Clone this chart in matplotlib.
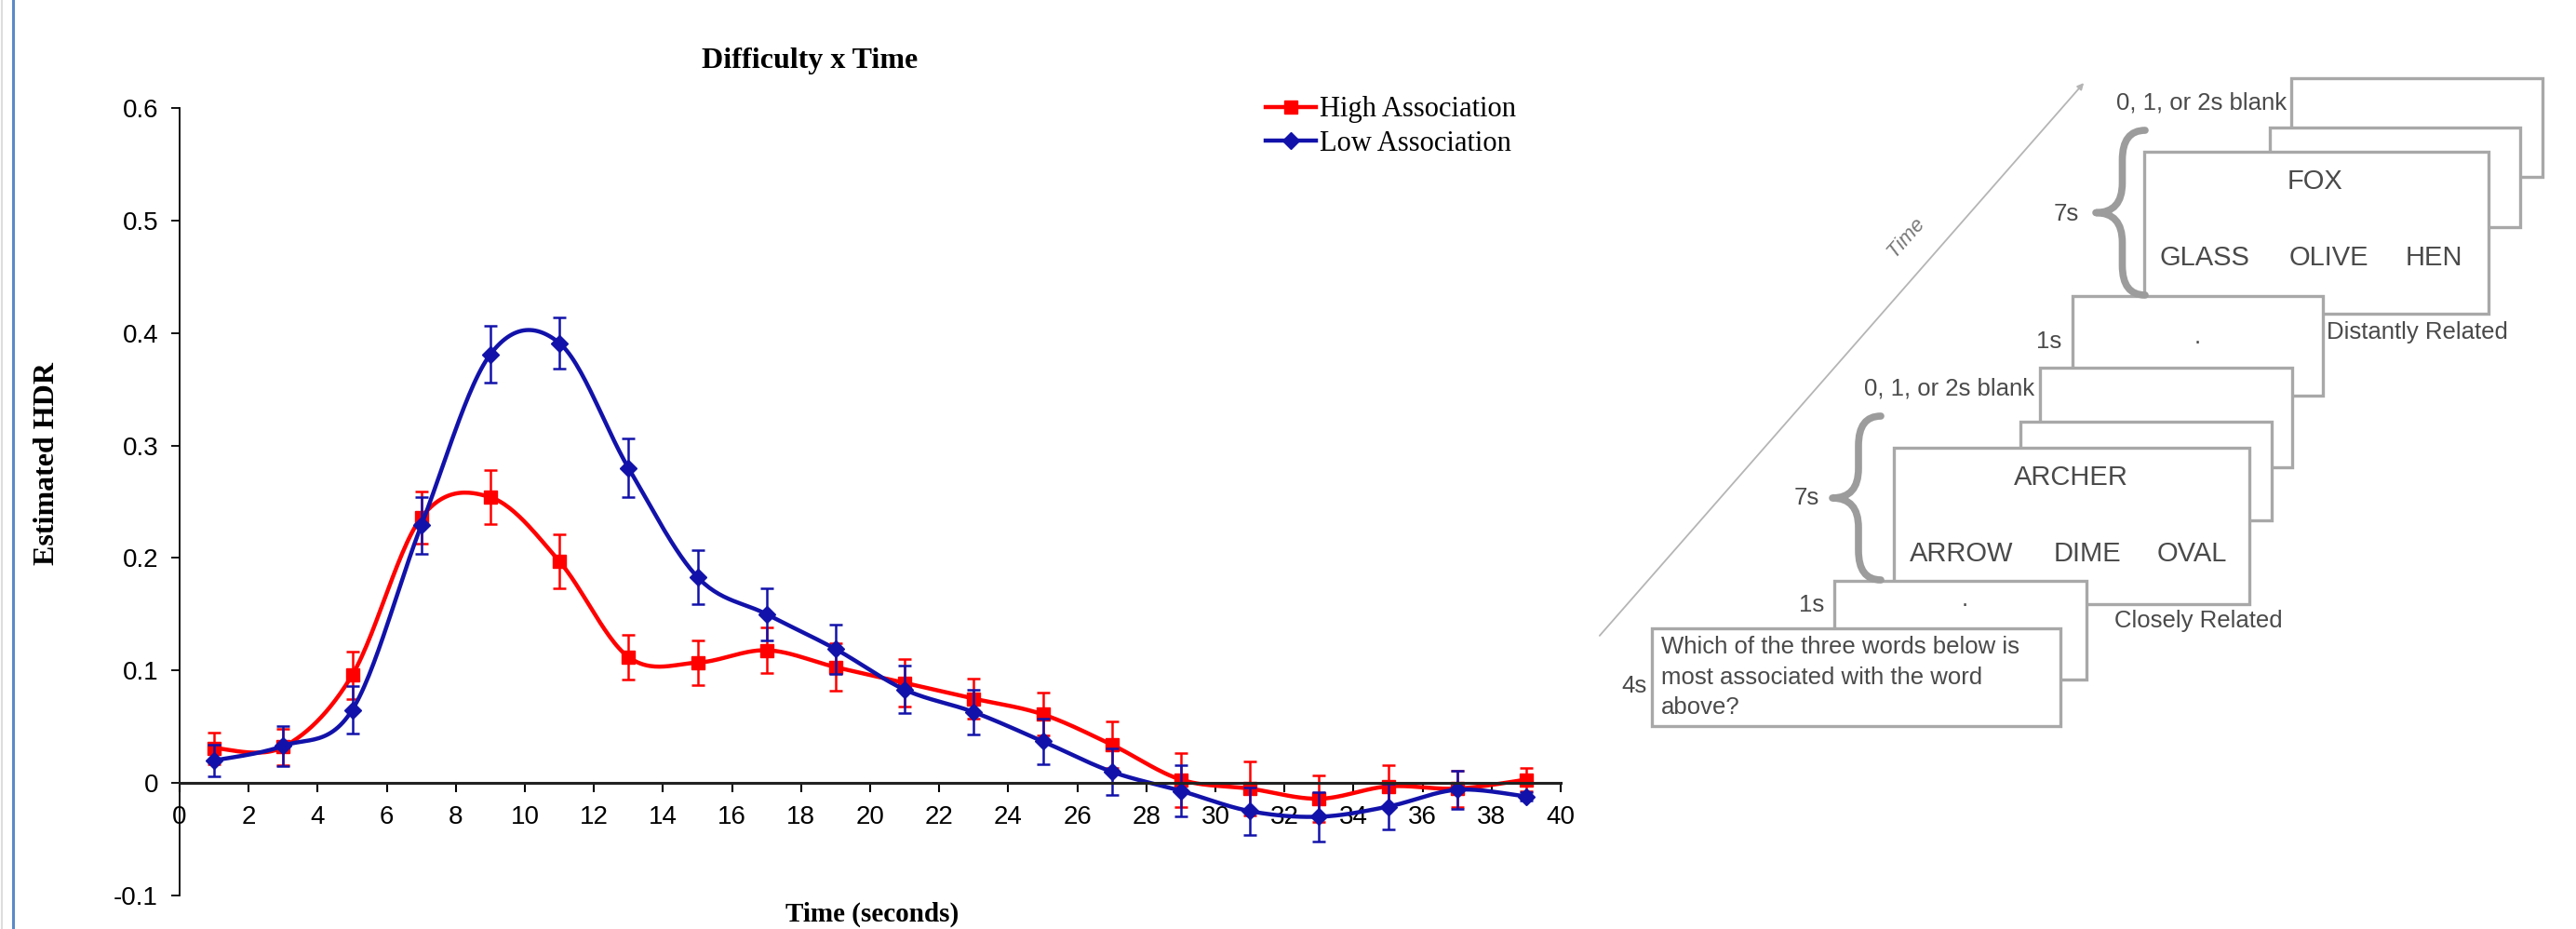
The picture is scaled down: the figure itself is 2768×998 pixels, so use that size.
import numpy as np
import matplotlib
matplotlib.use('Agg')
import matplotlib.pyplot as plt
from matplotlib.patches import Rectangle, PathPatch
from matplotlib.path import Path
from matplotlib.lines import Line2D

# --- data ---
time_s = [1, 3, 5, 7, 9, 11, 13, 15, 17, 19, 21, 23, 25, 27, 29, 31, 33, 35, 37, 39]
high_assoc = [0.031, 0.032, 0.096, 0.236, 0.254, 0.197, 0.112, 0.107, 0.118, 0.103,
              0.089, 0.075, 0.061, 0.034, 0.003, -0.005, -0.014, -0.003, -0.005, 0.003]
high_err = [0.014, 0.016, 0.021, 0.023, 0.024, 0.024, 0.020, 0.020, 0.020, 0.021,
            0.021, 0.018, 0.019, 0.021, 0.024, 0.024, 0.021, 0.019, 0.016, 0.010]
low_assoc = [0.020, 0.033, 0.065, 0.229, 0.381, 0.391, 0.280, 0.183, 0.150, 0.119,
             0.083, 0.063, 0.037, 0.010, -0.007, -0.025, -0.030, -0.021, -0.006, -0.012]
low_err = [0.014, 0.018, 0.021, 0.025, 0.025, 0.023, 0.026, 0.024, 0.023, 0.022,
           0.021, 0.020, 0.020, 0.021, 0.023, 0.021, 0.022, 0.020, 0.017, 0.004]
x_ticks = list(range(0, 41, 2))
y_ticks = [-0.1, 0.0, 0.1, 0.2, 0.3, 0.4, 0.5, 0.6]
y_tick_labels = ['-0.1', '0', '0.1', '0.2', '0.3', '0.4', '0.5', '0.6']

RED = '#FF0000'
BLUE = '#1212AA'
SERIF = 'Liberation Serif'
SANS = 'Liberation Sans'

W, H = 2768, 998


def smooth(xs, ys, n=30):
    # Excel-style smoothed line: Catmull-Rom through the points as cubic Beziers
    x = np.asarray(xs, float)
    y = np.asarray(ys, float)
    px = np.concatenate([[x[0]], x, [x[-1]]])
    py = np.concatenate([[y[0]], y, [y[-1]]])
    t = np.linspace(0, 1, n)[1:, None]
    pts = [np.array([[x[0], y[0]]])]
    for i in range(1, len(px) - 2):
        p0 = np.array([px[i - 1], py[i - 1]])
        p1 = np.array([px[i], py[i]])
        p2 = np.array([px[i + 1], py[i + 1]])
        p3 = np.array([px[i + 2], py[i + 2]])
        c1 = p1 + (p2 - p0) / 6
        c2 = p2 - (p3 - p1) / 6
        seg = ((1 - t) ** 3) * p1 + 3 * ((1 - t) ** 2) * t * c1 + 3 * (1 - t) * t ** 2 * c2 + t ** 3 * p2
        pts.append(seg)
    pts = np.vstack(pts)
    return pts[:, 0], pts[:, 1]


fig = plt.figure(figsize=(W / 100, H / 100), dpi=100)
fig.patch.set_facecolor('white')

# --- chart ---
ax = fig.add_axes([193 / W, (H - 962) / H, (1677 - 193) / W, (962 - 116) / H])
ax.patch.set_alpha(0)
ax.set_zorder(2)

for vals, err, col, mk, ms, lab in [
        (high_assoc, high_err, RED, 's', 10, 'High Association'),
        (low_assoc, low_err, BLUE, 'D', 9, 'Low Association')]:
    ax.errorbar(time_s, vals, yerr=err, fmt='none', ecolor=col, elinewidth=1.8,
                capsize=5, capthick=1.8)
    sx, sy = smooth(time_s, vals)
    ax.plot(sx, sy, color=col, lw=3.2, solid_capstyle='round')
    ax.plot(time_s, vals, ls='none', marker=mk, ms=ms, color=col)

ax.set_xlim(0, 40)
ax.set_ylim(-0.1, 0.6)
ax.spines['top'].set_visible(False)
ax.spines['right'].set_visible(False)
ax.spines['left'].set_bounds(-0.1, 0.6)
ax.spines['left'].set_linewidth(1.3)
ax.spines['bottom'].set_position(('data', 0))
ax.spines['bottom'].set_linewidth(2.2)
ax.spines['bottom'].set_color('#222222')
ax.set_xticks(x_ticks)
ax.set_xticklabels([str(v) for v in x_ticks], fontfamily=SANS)
ax.set_yticks(y_ticks)
ax.set_yticklabels(y_tick_labels, fontfamily=SANS)
ax.tick_params(axis='y', direction='out', length=6.5, width=1.3, pad=10, labelsize=20)
ax.tick_params(axis='x', direction='out', length=7, width=1.5, pad=10, labelsize=20)

legend_handles = [
    Line2D([], [], color=RED, lw=3.2, marker='s', ms=10),
    Line2D([], [], color=BLUE, lw=3.2, marker='D', ms=9),
]
fig.legend(legend_handles, ['High Association', 'Low Association'],
           loc='upper left', bbox_to_anchor=(1345 / W, 1 - 88 / H),
           bbox_transform=fig.transFigure, frameon=False, borderpad=0,
           handlelength=1.75, handletextpad=0.15, labelspacing=0.25,
           prop={'family': SERIF, 'size': 22})

fig.text(870 / W, 1 - 65 / H, 'Difficulty x Time', ha='center', va='center',
         fontfamily=SERIF, fontweight='bold', fontsize=23)
fig.text(51 / W, 1 - 498 / H, 'Estimated HDR', ha='center', va='center',
         rotation=90, fontfamily=SERIF, fontweight='bold', fontsize=23)
fig.text(937 / W, 1 - 996 / H, 'Time (seconds)', ha='center', va='bottom',
         fontfamily=SERIF, fontweight='bold', fontsize=21)

# slide frame line on the left
fig.add_artist(Line2D([2 / W, 2 / W], [0, 1], transform=fig.transFigure,
                      color='#DDDDDD', lw=1.5))
fig.add_artist(Line2D([14 / W, 14 / W], [0, 1], transform=fig.transFigure,
                      color='#5B8AC9', lw=2.2))

# --- task diagram on the right (pixel coordinates) ---
dax = fig.add_axes([0, 0, 1, 1])
dax.set_xlim(0, W)
dax.set_ylim(H, 0)
dax.axis('off')
dax.set_zorder(1)

EDGE = '#A8A8A8'
TXT = '#4A4A4A'

# time arrow
dax.annotate('', xy=(2241, 87), xytext=(1717, 685),
             arrowprops=dict(arrowstyle='-|>', color='#B5B5B5', lw=1.3,
                             mutation_scale=10))
dax.text(2048, 255, 'Time', rotation=48.5, ha='center', va='center',
         fontfamily=SANS, fontstyle='italic', fontsize=16, color='#777777')

boxes = [
    (2462, 84, 2732, 190),
    (2439, 137, 2708, 244),
    (2304, 163, 2674, 337),
    (2227, 318, 2496, 425),
    (2192, 395, 2463, 502),
    (2171, 453, 2441, 559),
    (2035, 481, 2417, 649),
    (1971, 624, 2242, 730),
    (1775, 675, 2214, 780),
]
for i, (x0, y0, x1, y1) in enumerate(boxes):
    dax.add_patch(Rectangle((x0, y0), x1 - x0, y1 - y0, facecolor='white',
                            edgecolor=EDGE, lw=2.4, zorder=10 + 2 * i))


def brace(x_tip, x_end, y_top, y_bot, z):
    ym = (y_top + y_bot) / 2
    xm = (x_tip + x_end) / 2 + 2
    k = 0.18 * (y_bot - y_top)
    verts = [(x_end, y_top), (xm, y_top), (xm, y_top + k),
             (xm, ym - k), (xm, ym), (x_tip, ym),
             (xm, ym), (xm, ym + k),
             (xm, y_bot - k), (xm, y_bot), (x_end, y_bot)]
    codes = [Path.MOVETO, Path.CURVE3, Path.CURVE3,
             Path.LINETO, Path.CURVE3, Path.CURVE3,
             Path.CURVE3, Path.CURVE3,
             Path.LINETO, Path.CURVE3, Path.CURVE3]
    dax.add_patch(PathPatch(Path(verts, codes), facecolor='none', edgecolor='#9C9C9C',
                            lw=5.5, capstyle='round', joinstyle='round', zorder=30))


brace(2252, 2305, 140, 317, 30)
brace(1969, 2021, 447, 623, 30)

fs = 18.5
big = 21
labels = [
    (2457, 110, '0, 1, or 2s blank', 'right', fs),
    (2488, 195, 'FOX', 'center', big),
    (2369, 277, 'GLASS', 'center', big),
    (2502, 277, 'OLIVE', 'center', big),
    (2615, 277, 'HEN', 'center', big),
    (2234, 230, '7s', 'right', fs),
    (2500, 357, 'Distantly Related', 'left', fs),
    (2215, 367, '1s', 'right', fs),
    (2361, 362, '.', 'center', fs),
    (2186, 417, '0, 1, or 2s blank', 'right', fs),
    (2225, 513, 'ARCHER', 'center', big),
    (2108, 595, 'ARROW', 'center', big),
    (2243, 595, 'DIME', 'center', big),
    (2355, 595, 'OVAL', 'center', big),
    (1955, 535, '7s', 'right', fs),
    (1960, 650, '1s', 'right', fs),
    (2111, 644, '.', 'center', fs),
    (2272, 667, 'Closely Related', 'left', fs),
    (1770, 737, '4s', 'right', fs),
    (1785, 695, 'Which of the three words below is', 'left', fs),
    (1785, 728, 'most associated with the word', 'left', fs),
    (1785, 760, 'above?', 'left', fs),
]
for x, y, s, ha, size in labels:
    dax.text(x, y, s, ha=ha, va='center', fontfamily=SANS, fontsize=size,
             color=TXT, zorder=40)

fig.savefig('out.png', dpi=100, facecolor='white')
